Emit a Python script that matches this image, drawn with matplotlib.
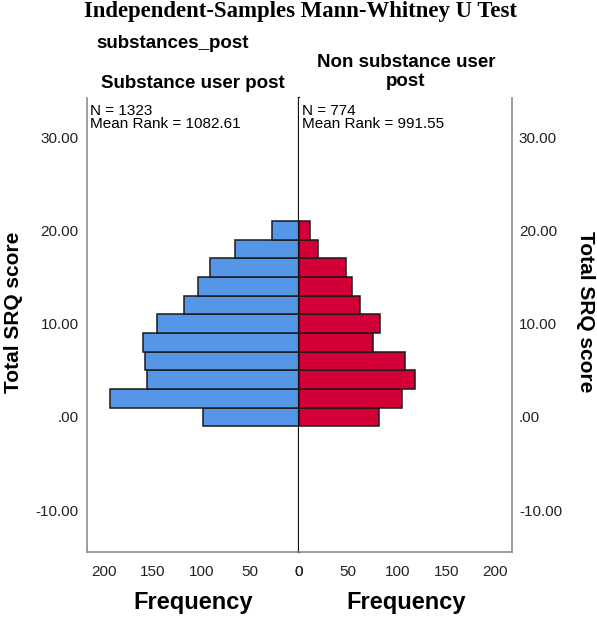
import numpy as np
import matplotlib
matplotlib.use("Agg")
import matplotlib.pyplot as plt

# --- data --------------------------------------------------------------------
score_bins = [0, 2, 4, 6, 8, 10, 12, 14, 16, 18, 20]
freq_user = [98, 193, 156, 158, 160, 145, 118, 103, 91, 66, 28]
freq_non_user = [81, 105, 118, 108, 75, 83, 62, 54, 48, 19, 11]

y_ticks = [-10, 0, 10, 20, 30]
y_tick_labels = ["-10.00", ".00", "10.00", "20.00", "30.00"]
x_ticks = [0, 50, 100, 150, 200]
x_tick_labels = ["0", "50", "100", "150", "200"]

group_names = ["Substance user post", "Non substance user\npost"]
group_stats = ["N = 1323\nMean Rank = 1082.61", "N = 774\nMean Rank = 991.55"]

BLUE = "#5596e6"
RED = "#d20036"
EDGE = "#1a1a1a"
FRAME = "#8c8c8c"
W, H = 597, 617

plt.rcParams["font.family"] = ["Liberation Sans", "DejaVu Sans"]

fig = plt.figure(figsize=(W / 100, H / 100), dpi=100)


def fx(px):
    return px / W


def fy(py):
    return 1 - py / H


bottom, top = fy(552), fy(98)
ax_l = fig.add_axes([fx(87), bottom, fx(299) - fx(87), top - bottom])
ax_r = fig.add_axes([fx(299), bottom, fx(512) - fx(299), top - bottom])

ax_l.barh(score_bins, freq_user, height=2.0, color=BLUE,
          edgecolor=EDGE, linewidth=1.1, zorder=2)
ax_r.barh(score_bins, freq_non_user, height=2.0, color=RED,
          edgecolor=EDGE, linewidth=1.1, zorder=2)

for ax in (ax_l, ax_r):
    ax.set_xlim(0, 217)
    ax.set_ylim(-14.5, 34.2)
    ax.set_xticks(x_ticks)
    ax.set_xticklabels(x_tick_labels)
    ax.set_yticks(y_ticks)
    ax.set_yticklabels(y_tick_labels)
    ax.tick_params(length=0, labelsize=11, labelcolor="#222222")
    ax.tick_params(axis="x", pad=9)
    ax.spines["top"].set_visible(False)
    ax.spines["bottom"].set_color(FRAME)
    ax.spines["bottom"].set_linewidth(1.2)

ax_l.invert_xaxis()
ax_l.tick_params(axis="y", pad=6)
ax_l.spines["left"].set_color(FRAME)
ax_l.spines["left"].set_linewidth(1.2)
ax_l.spines["right"].set_color("#111111")
ax_l.spines["right"].set_linewidth(1.6)
ax_l.spines["right"].set_zorder(3)

ax_r.yaxis.tick_right()
ax_r.tick_params(axis="y", pad=5)
ax_r.spines["left"].set_visible(False)
ax_r.spines["right"].set_color(FRAME)
ax_r.spines["right"].set_linewidth(1.2)

# titles / labels
fig.text(fx(300), fy(11), "Independent-Samples Mann-Whitney U Test",
         family="Liberation Serif", weight="bold", fontsize=16.4,
         ha="center", va="center")
fig.text(fx(173), fy(43), "substances_post", weight="bold", fontsize=13.5,
         ha="center", va="center")
fig.text(fx(193), fy(83), group_names[0], weight="bold", fontsize=13.5,
         ha="center", va="center")
fig.text(fx(406), fy(72), group_names[1], weight="bold", fontsize=13.5,
         ha="center", va="center", linespacing=1.15)

fig.text(fx(90), fy(104), group_stats[0], fontsize=11, ha="left", va="top",
         linespacing=0.95)
fig.text(fx(302), fy(104), group_stats[1], fontsize=11, ha="left", va="top",
         linespacing=0.95)

fig.text(fx(14), fy(312), "Total SRQ score", fontsize=15, weight="bold",
         rotation=90, ha="center", va="center")
fig.text(fx(585), fy(312), "Total SRQ score", fontsize=15, weight="bold",
         rotation=270, ha="center", va="center")
fig.text(fx(193), fy(602), "Frequency", fontsize=17, weight="bold",
         ha="center", va="center")
fig.text(fx(406), fy(602), "Frequency", fontsize=17, weight="bold",
         ha="center", va="center")

fig.savefig("out.png", dpi=100)
